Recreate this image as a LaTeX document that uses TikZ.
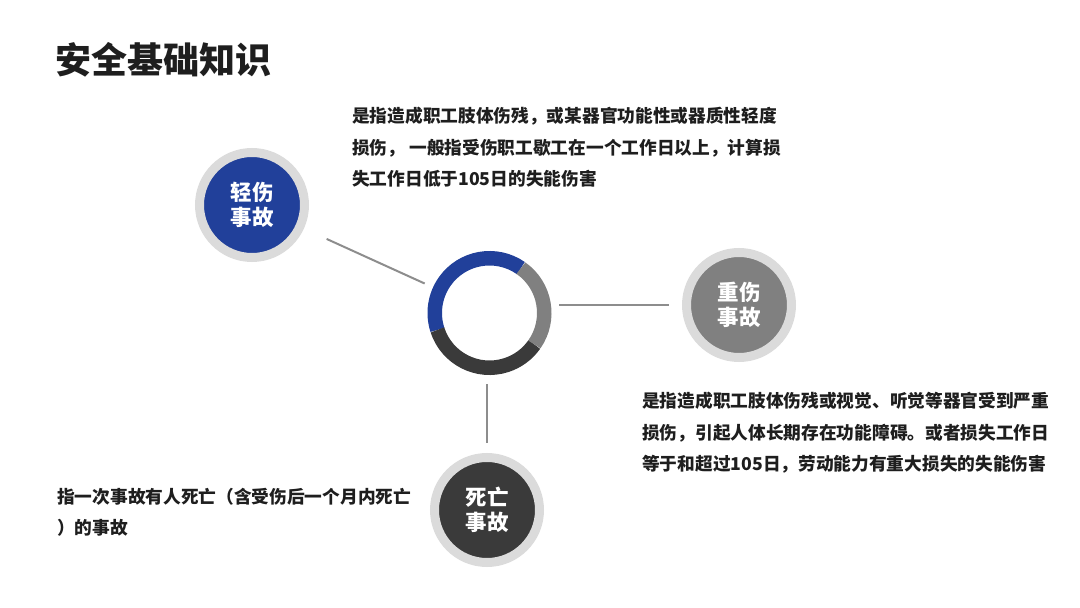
\documentclass[tikz,border=0pt]{standalone}
\usepackage{fontspec}
\setmainfont{Noto Sans CJK SC}
\usepackage{xcolor}
\usetikzlibrary{positioning}
\definecolor{accblue}{RGB}{33,64,154}
\definecolor{accgray}{RGB}{128,128,128}
\definecolor{accdark}{RGB}{58,58,58}
\definecolor{rimgray}{RGB}{219,219,219}
\definecolor{txtdark}{RGB}{30,30,30}

\begin{document}
\begin{tikzpicture}[x=1pt,y=1pt,
  badge/.style={circle,draw=rimgray,line width=9pt,minimum size=105pt,inner sep=0pt,
    text=white,font=\fontsize{21.5}{24.5}\selectfont\bfseries,align=center},
  desc/.style={anchor=north west,inner sep=0pt,align=left,text=txtdark,
    font=\fontsize{17.7}{31.5}\selectfont\bfseries},
  link/.style={draw=accgray!90,line width=2pt},
  seg/.style={line width=14.5pt}]
  \useasboundingbox (0,0) rectangle (1080,608);
  % title
  \node[anchor=west,inner sep=0pt,text=txtdark,font=\fontsize{36}{40}\selectfont\bfseries]
    (title) at (55,548) {安全基础知识};
  % the ring in the middle
  \node[circle,minimum size=124pt,inner sep=0pt] (ring) at (489.5,295) {};
  \draw[seg,accblue] ([shift={(55:54.75)}]ring.center) arc (55:198:54.75);
  \draw[seg,accdark] ([shift={(198:54.75)}]ring.center) arc (198:325:54.75);
  \draw[seg,accgray] ([shift={(325:54.75)}]ring.center) arc (325:415:54.75);
  % the three kinds
  \node[badge,fill=accblue] (light) at (252,403) {轻伤\\事故};
  \node[badge,fill=accgray] (heavy) at (739,303) {重伤\\事故};
  \node[badge,fill=accdark] (death) at (487,98) {死亡\\事故};
  \draw[link,shorten <=25pt,shorten >=9pt] (light) -- (ring);
  \draw[link,shorten <=7.5pt,shorten >=13pt] (ring.east |- heavy.west) -- (heavy.west);
  \draw[link,shorten <=9pt,shorten >=10pt] (ring.south -| death.north) -- (death.north);
  % what they mean
  \node[desc] (txtlight) at (352,501) {是指造成职工肢体伤残，或某器官功能性或器质性轻度\\
    损伤，\ 一般指受伤职工歇工在一个工作日以上，计算损\\
    失工作日低于105日的失能伤害};
  \node[desc] (txtheavy) at (642,216) {是指造成职工肢体伤残或视觉、听觉等器官受到严重\\
    损伤，引起人体长期存在功能障碍。或者损失工作日\\
    等于和超过105日，劳动能力有重大损失的失能伤害};
  \node[desc] (txtdeath) at (57,120) {指一次事故有人死亡（含受伤后一个月内死亡\\
    ）的事故};
\end{tikzpicture}
\end{document}
